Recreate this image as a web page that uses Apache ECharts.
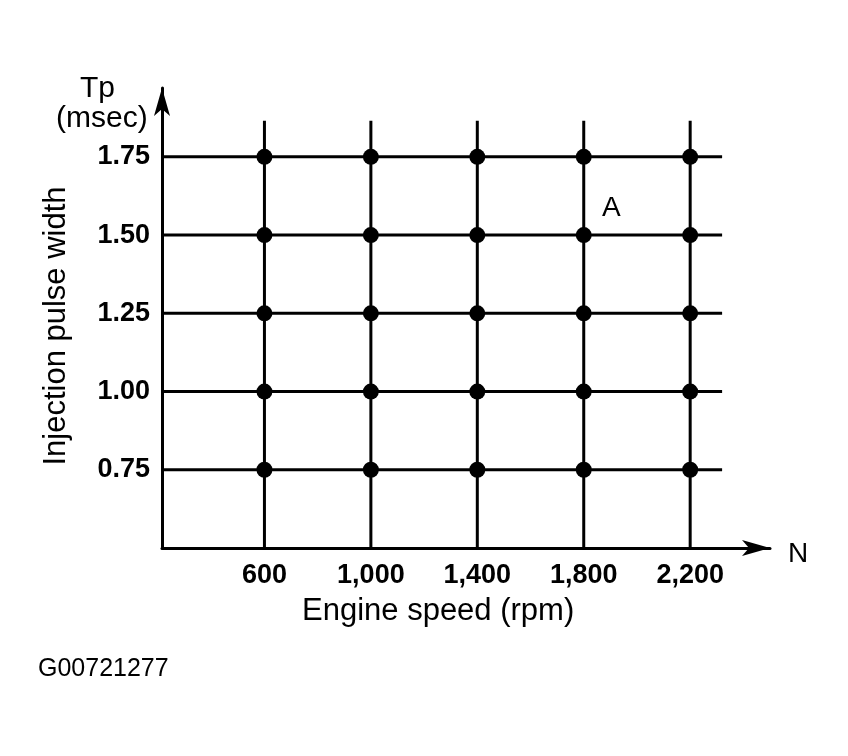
<!DOCTYPE html><html><head><meta charset="utf-8">
<script src="https://cdn.jsdelivr.net/npm/echarts@6/dist/echarts.min.js"></script>
<style>body{margin:0;background:#fff}#c{width:848px;height:756px}</style></head><body><div id="c"></div>
<script>
const speeds=[600,1000,1400,1800,2200];
const speedLabels=['600','1,000','1,400','1,800','2,200'];
const pulses=[0.75,1.00,1.25,1.50,1.75];
const pulseLabels=['0.75','1.00','1.25','1.50','1.75'];
const F='Liberation Sans, Arial, sans-serif';
const series=[];
pulses.forEach(p=>series.push({type:'line',data:[[215,p],[2320,p]],symbol:'none',lineStyle:{color:'#000',width:3},silent:true}));
speeds.forEach(s=>series.push({type:'line',data:[[s,0.5],[s,1.865]],symbol:'none',lineStyle:{color:'#000',width:3},silent:true}));
const pts=[];speeds.forEach(s=>pulses.forEach(p=>pts.push([s,p])));
series.push({type:'scatter',data:pts,symbolSize:16,itemStyle:{color:'#000',opacity:1}});
series.push({type:'scatter',data:speeds.map((s,i)=>({value:[s,0.5],name:speedLabels[i]})),symbolSize:0,itemStyle:{opacity:1},
 label:{show:true,position:'bottom',distance:14,formatter:p=>p.name,fontFamily:F,fontWeight:'bold',fontSize:27,color:'#000'}});
series.push({type:'scatter',data:pulses.map((p,i)=>({value:[215,p],name:pulseLabels[i]})),symbolSize:0,itemStyle:{opacity:1},
 label:{show:true,position:'left',distance:12,formatter:p=>p.name,fontFamily:F,fontWeight:'bold',fontSize:27,color:'#000'}});
const chart=echarts.init(document.getElementById('c'));
chart.setOption({animation:false,
grid:{left:162,right:78,top:88,bottom:208},
xAxis:{type:'value',min:215,max:2500,splitLine:{show:false},axisTick:{show:false},axisLabel:{show:false},
 axisLine:{lineStyle:{color:'#000',width:3},symbol:['none','arrow'],symbolSize:[12,28]}},
yAxis:{type:'value',min:0.5,max:1.97,splitLine:{show:false},axisTick:{show:false},axisLabel:{show:false},
 axisLine:{lineStyle:{color:'#000',width:3},symbol:['none','arrow'],symbolSize:[12,28]}},
series,
graphic:[
 {type:'text',left:80,top:74,style:{text:'Tp',font:'30px '+F,fill:'#000'}},
 {type:'text',left:56,top:104,style:{text:'(msec)',font:'30px '+F,fill:'#000'}},
 {type:'text',left:788,top:540,style:{text:'N',font:'28px '+F,fill:'#000'}},
 {type:'text',left:602,top:194,style:{text:'A',font:'28px '+F,fill:'#000'}},
 {type:'text',left:302,top:596,style:{text:'Engine speed (rpm)',font:'31px '+F,fill:'#000'}},
 {type:'text',x:56,y:326,rotation:Math.PI/2,style:{text:'Injection pulse width',font:'31px '+F,fill:'#000',align:'center',verticalAlign:'middle'}},
 {type:'text',left:38,top:657,style:{text:'G00721277',font:'25px '+F,fill:'#000'}}
]});
</script></body></html>
